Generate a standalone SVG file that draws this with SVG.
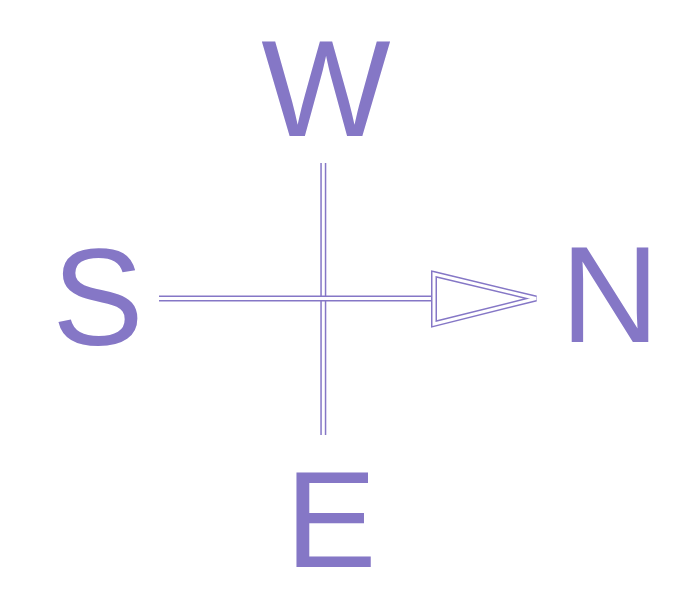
<svg xmlns="http://www.w3.org/2000/svg" width="680" height="589" viewBox="0 0 680 589">
<style>
.lbl{font-family:"Liberation Sans",Arial,sans-serif;font-size:137px;fill:#8577c6;text-anchor:middle}
.outer{fill:none;stroke:#8577c6;stroke-width:6}
.inner{fill:none;stroke:#ffffff;stroke-width:3}
</style>
<rect width="680" height="589" fill="#ffffff"/>
<g id="connectors">
<line class="outer" x1="323.3" y1="163" x2="323.3" y2="435"/>
<line class="inner" x1="323.3" y1="163" x2="323.3" y2="435"/>
<line class="outer" x1="159" y1="298.5" x2="434" y2="298.5"/>
<line class="inner" x1="159" y1="298.5" x2="434" y2="298.5"/>
<polygon class="outer" points="434,274 536,298.5 434,324" stroke-linejoin="miter"/>
<polygon class="inner" points="434,274 536,298.5 434,324" stroke-linejoin="miter"/>
</g>
<g id="W"><text class="lbl" x="326" y="136">W</text></g>
<g id="S"><text class="lbl" x="98" y="345">S</text></g>
<g id="N"><text class="lbl" x="610" y="342">N</text></g>
<g id="E"><text class="lbl" x="331" y="567">E</text></g>
</svg>
